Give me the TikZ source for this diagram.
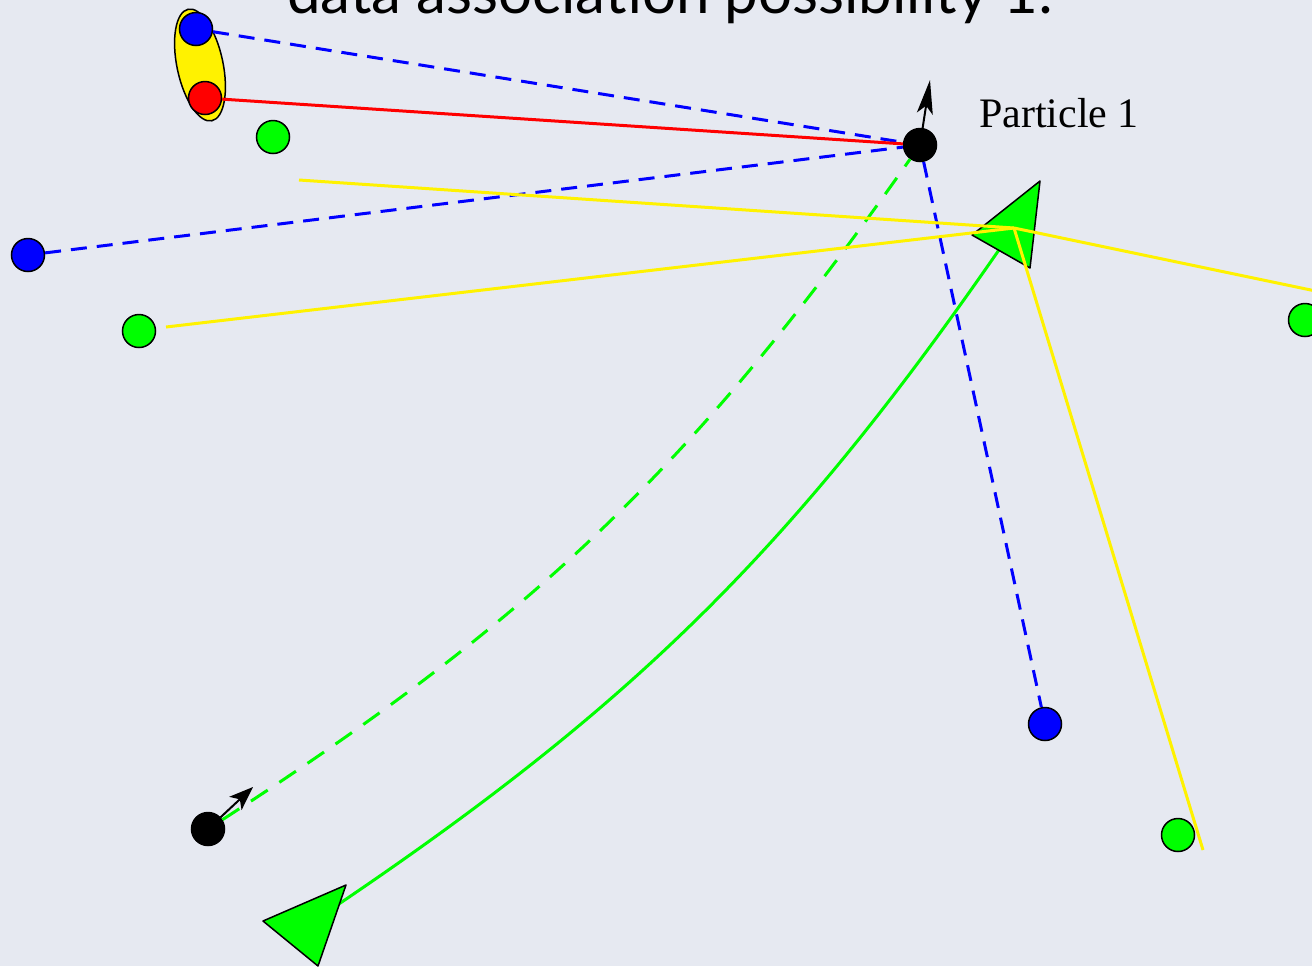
\documentclass[tikz,border=0pt]{standalone}
\usepackage{fontspec}
\setmainfont{Liberation Serif}
\newfontfamily\titlefont{Lato}
\usetikzlibrary{arrows.meta}
\definecolor{bgcol}{RGB}{230,233,241}

\begin{document}
\begin{tikzpicture}[
  x=0.5pt, y=-0.5pt,
  dot/.style={circle, draw, line width=0.75pt, minimum size=16.5pt,
              inner sep=0pt},
  meas/.style={draw=blue, line width=1.5pt, dash pattern=on 8pt off 5pt},
  assoc/.style={draw=red, line width=1.5pt},
  trail/.style={draw=green, line width=1.5pt},
  obs/.style={draw=yellow, line width=1.5pt},
  lmk/.style={fill=green, draw=black, line width=0.75pt, line join=round},
  head/.style={-{Stealth[length=17pt, width=8pt, inset=4pt]}, line width=1pt},
]
  \fill[bgcol] (0,0) rectangle (1312,966);
  \useasboundingbox (0,0) rectangle (1312,966);
  \clip (0,0) rectangle (1312,966);

  \node[font=\titlefont\fontsize{30}{36}\selectfont, anchor=base] (title)
    at (670,13) {data association possibility 1:};

  \draw[fill=yellow, line width=0.75pt, rotate around={12:(200,65)}]
    (200,65) ellipse [x radius=23, y radius=57];

  \node[dot, fill=blue] (bA) at (196,29) {};
  \node[dot, fill=red] (rA) at (205,98) {};
  \node[dot, fill=green] (gA) at (273,137) {};
  \node[dot, fill=black] (p1) at (920,145) {};
  \node[dot, fill=blue] (bB) at (28,255) {};
  \node[dot, fill=green] (gB) at (139,331) {};
  \node[dot, fill=green] (gC) at (1305,320) {};
  \node[dot, fill=blue] (bC) at (1045,724) {};
  \node[dot, fill=green] (gD) at (1178,835) {};
  \node[dot, fill=black] (p2) at (208,829) {};

  \node[font=\fontsize{21}{25}\selectfont, anchor=base west] (lbl)
    at (972,127) {Particle 1};

  \coordinate (t1) at (1014,228);
  \coordinate (t2) at (309,924);
  \coordinate (p1head) at (930,80);
  \coordinate (p2head) at (253,787);
  \coordinate (y1) at (299,180);
  \coordinate (y2) at (166,327);
  \coordinate (y3) at (1330,294);
  \coordinate (y4) at (1203,850);

  \draw[meas] (bA) -- (p1);
  \draw[assoc] (rA) -- (p1);
  \draw[meas] (bB) -- (p1);
  \draw[meas] (p1) -- (bC);
  \draw[trail, dash pattern=on 10pt off 7pt] (p2) to[bend right=11] (p1);
  \draw[trail] (t2) to[bend right=11] (t1);

  \filldraw[lmk] (1040,181) -- (972,235) -- (1030,268) -- cycle;
  \filldraw[lmk] (346,885) -- (263,921) -- (318,966) -- cycle;

  \draw[obs] (t1) -- (y1);
  \draw[obs] (t1) -- (y2);
  \draw[obs] (t1) -- (y3);
  \draw[obs] (t1) -- (y4);

  \draw[head] (p1) -- (p1head);
  \draw[head, -{Stealth[length=12pt, width=9pt, inset=3pt]}] (p2) -- (p2head);
\end{tikzpicture}
\end{document}
